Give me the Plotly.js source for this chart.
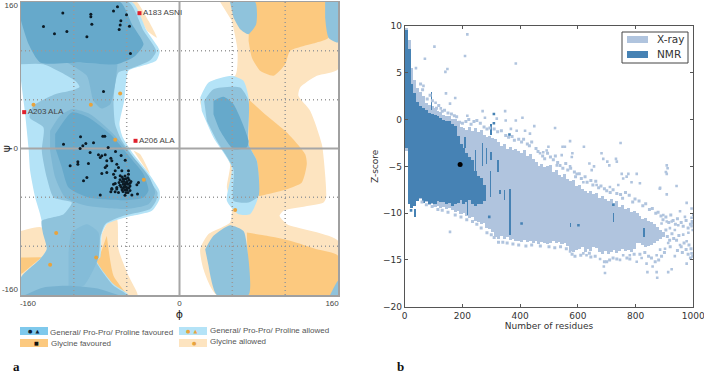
<!DOCTYPE html>
<html><head><meta charset="utf-8">
<script src="https://cdn.plot.ly/plotly-3.0.1.min.js"></script>
<style>html,body{margin:0;padding:0;background:#fff}#c{width:704px;height:375px}</style></head>
<body><div id="c"></div>
<script>
// ---------- Panel a: Ramachandran regions, [phi...] / [psi...] in degrees ----------
const glyAllowedRightPhi=[41,160,160,138.6,121.8,120,132,143.7,147,148,145.4,105,101,108.4,160,160,37.7,24.2,20.9,29.3,51,52.8,47.8,51,37.7,20.9,34.3,56.2,58.6,52.8];
const glyAllowedRightPsi=[160,160,86.6,79.4,66.6,57.5,41,4.7,-28,-53.5,-59,-68,-73.5,-82.6,-100.8,-160,-160,-131.8,-110,-93.5,-80.8,-60.8,-42.6,-17,8.4,52,73.9,79.4,106.6,139.4];
const glyFavUpperPhi=[71.3,150.4,150.4,138.6,111.7,106.7,94.9,81.4,73,69.7];
const glyFavUpperPsi=[160,160,121,115.8,106.6,92,79.4,84.8,99.4,117.6];
const glyFavMiddlePhi=[69.7,88.2,108.4,126.9,128.5,123.5,108.4,88.2,79.8,78,76.4,69.7];
const glyFavMiddlePsi=[53.9,35.7,17.5,-6.2,-17,-37,-44.4,-49.9,-51.7,-35,-20.7,4.7];
const glyFavLowerPhi=[68,88.2,111.7,138.6,160,160,69.7];
const glyFavLowerPsi=[-91.7,-95.4,-100.8,-110,-117,-160,-160];
const glyAllowedTopPhi=[-48,-43,-31.3,-22.9,-33];
const glyAllowedTopPsi=[160,160,139.4,121,128.5];
const glyAllowedMidPhi=[-46.4,-39.7,-29.6,-33];
const glyAllowedMidPsi=[-2.5,-6.2,-28,-24.4];
const glyAllowedLeftPhi=[-160,-139,-132.2,-140.7,-160];
const glyAllowedLeftPsi=[-90,-86.3,-110,-120.8,-141];
const glyAllowedLowPhi=[-78.4,-73.4,-63.3,-61.6,-51.5,-42.4,-53,-80];
const glyAllowedLowPsi=[-93.5,-82.6,-77,-110,-139,-160,-160,-119];
const glyFavLeftPhi=[-160,-135.6,-140.7,-157.5,-160];
const glyFavLeftPsi=[-119,-119,-120.8,-135.4,-137];
const glyFavWedgePhi=[-73.4,-66.6,-53,-67.3,-84,-80];
const glyFavWedgePsi=[-95.4,-139,-160,-149,-123.4,-115.4];
const genAllowedPhi=[-160,-48,-33,-20,-23.6,-51.5,-53.8,-55.9,-60.6,-57.2,-46.4,-33,-20.2,-20.2,-27.9,-54.8,-73.4,-78.4,-80,-83.5,-66.6,-51.5,-160,-160,-140.7,-134,-137.3,-140.7,-145.7,-150.8,-152.4,-155.8,-160];
const genAllowedPsi=[160,160,128.5,106.6,95.7,84.8,73.9,52,26.6,12,-6.2,-24.4,-46.2,-55.3,-68,-75.3,-82.6,-93.5,-119,-122.7,-148,-160,-160,-141,-120.8,-110,-88,-71.7,-53.5,-24.4,1,37.5,74];
const genMidPhi=[-160,-51.5,-36.3,-23.6,-29.6,-51.5,-61.6,-65,-66.6,-65,-58.2,-46.4,-33,-22.2,-23.6,-29.6,-56.5,-75,-80,-81.8,-84,-67.3,-53,-160,-160,-140.7,-134,-138,-139,-117,-108.7,-127,-134,-139,-137.3,-151.4,-147.4,-125.5,-110.4,-101,-105.3,-137.3,-160];
const genMidPsi=[160,160,128.5,106.6,96.5,86.6,83,70.3,52,26.6,8.4,-9.8,-31.7,-48,-57,-66,-73.5,-82.6,-97,-119,-123.4,-149,-160,-160,-141,-120.8,-110,-91.7,-79,-71.7,-59,-53.5,-31.7,-2.5,23,33.9,46.6,59.3,63,67.3,73.9,92,92];
const bumpPhi=[-113.7,-93.5,-86.8,-78.4,-70,-65,-62.6];
const bumpPsi=[94,79.4,52,43.7,48.4,70.3,92];
const haloPhi=[-130.6,-120.5,-108.7,-90.2,-68.3,-48,-31.3,-24.6,-31.3,-54.8,-93.5,-115.4,-125.5,-130.6];
const haloPsi=[19.3,35.7,43,37.5,17.5,-8,-29.8,-48,-60.8,-66,-62.6,-53.5,-31.7,-2.5];
const patchPhi=[-112,-108.7,-93.5,-81.8,-81.8,-96.9,-112];
const patchPsi=[-113.6,-91.7,-82.6,-91.7,-119,-150,-151.8];
const sliverPhi=[-155.8,-137.3,-110.4,-80,-61.6];
const sliverPsi=[-160,-151.8,-150,-153.6,-160];
const coreUpperPhi=[-160,-60,-48,-36.3,-44.8,-63.3,-100.3,-140.7,-152.4,-160];
const coreUpperPsi=[160,160,135.8,114,101,92,94,94,114,139.4];
const coreLowerPhi=[-125.5,-108.7,-91.9,-70,-49.8,-36.3,-31.3,-36.3,-53.2,-91.9,-112,-118.8,-125.5];
const coreLowerPsi=[15.7,39.3,33.9,15.7,-9.8,-28,-46,-53.5,-56.4,-53.5,-42.6,-20.7,1];
const rightTopPhi=[51,76.4,77.4,69.7,61.2,54.5];
const rightTopPsi=[160,160,135.8,124.9,130.3,143];
const rightCornerPhi=[147,160,160,150.4,147];
const rightCornerPsi=[160,160,115.8,121,143];
const rightLightPhi=[20.9,29.3,52.8,64.6,69.7,69.7,78,79.8,71.3,59.6,47.8,52.8,34.3,22.5];
const rightLightPsi=[55.7,72,79.4,73.9,55.7,4.7,-13.5,-51.7,-71.7,-71.7,-57,-20.7,12,41];
const rightMidPhi=[24.9,34.3,61.2,69.7,69.7,78,79.8,69.7,54.5,54.5,37.7,27.6];
const rightMidPsi=[52,64.8,66.6,52,4.7,-13.5,-51.7,-59,-57,-22.6,8.4,30];
const rightCorePhi=[34.3,44.4,54.5,69.7,68,54.5,41,34.3];
const rightCorePsi=[52,56.4,48.4,8.4,1,-0.7,19.3,37.5];
const rightLowPhi=[25.9,34.3,51,64.6,68,69.7,37.7,29.3];
const rightLowPsi=[-110,-95.4,-83.7,-90,-106,-160,-160,-128];
const rightBottomPhi=[152,160,160];
const rightBottomPsi=[-160,-144.5,-160];

const residuePhi=[-117.8,-89.5,-89.5,-66.6,-62.6,-53.5,-59.2,-59.9,-88.5,-137.3,-50.5,-60.9,-113.7,-126.2,-93.5,-49.5,-76.7,-77.4,-75.4,-99.9,-117.1,-94.6,-97.6,-100.3,-86.8,-72,-64.6,-90.2,-58.9,-81.8,-78.4,-75,-80,-69.3,-73.4,-54.8,-110.4,-102.6,-102.6,-91.9,-68.3,-73.4,-75,-63.3,-61.6,-64.9,-58.2,-66.6,-78.4,-73.4,-93.5,-96.9,-64.9,-59.9,-51.5,-51.5,-41.4,-43,-66.6,-63.3,-68.3,-64.9,-80,-48.1,-42.4,-69.3,-65,-61.6,-63.3,-68.3,
-58,-55,-52,-60,-57,-54,-51,-49,-61,-58,-56,-53,-50,-60,-57,-55,-52,-50,-59,-56,-54,-51,-58,-55,-53,-50,-57,-54,-52,-55,-53,-56,-55,-53,-57,-54];
const residuePsi=[148,146.7,143.8,150.3,154.7,146,139.4,135,135.8,133.2,133.6,130,127.8,125.2,122,103.7,62.2,13.5,13.5,12.7,4.7,5.5,2.9,0,6.2,1,-3.3,-4.4,-7.6,-6.9,-8,-6.9,-9.8,-10.6,-13.5,-12.7,-18.9,-14.6,-17.1,-16.4,-13.5,-18.9,-20.7,-17.1,-20.7,-24.4,-24.4,-28,-27.3,-26.2,-31.7,-35.3,-31.7,-29.8,-24.4,-28,-37,-39.7,-39,-42.6,-44.4,-38.2,-50.9,-50.9,-49.8,-47.3,-47.3,-48,-44.3,-43.6,
-31,-30,-32,-34,-33,-33,-34,-36,-37,-36,-36,-36,-38,-40,-39,-39,-39,-41,-42,-42,-42,-43,-45,-45,-45,-46,-47,-48,-48,-51,-36.5,-33.5,-41,-43,-43.5,-38];
const glycinePhi=[-147.4,-89.5,-59.9,-64.9,-36,-124.5,-130.6,-84.1,56.2];
const glycinePsi=[47.7,47.7,60,9.5,-34.2,-92.4,-127,-119,-67.3];
const outlierPhi=[-40.4,-156.8,-44.4];
const outlierPsi=[147.8,39.7,8.4];
const outlierNames=["A183 ASNI","A203 ALA","A206 ALA"];
const gridLines=[-106.7,-53.3,53.3,106.7];
const ramaTickX=[-153,0,154];
const ramaTickY=[-154,0,156];
const ramaTickTextX=["-160","0","160"];
const ramaTickTextY=["-160","0","160"];

// ---------- Panel b: dense bands read per residue bin, plus sparse points ----------
const xrayRes=[5,15,25,35,45,55,65,75,85,95,105,115,125,135,145,155,165,175,185,195,205,215,225,235,245,255,265,275,285,295,305,315,325,335,345,355,365,375,385,395,405,415,425,435,445,455,465,475,485,495,505,515,525,535,545,555,565,575,585,595,605,615,625,635,645,655,665,675,685,695,705,715,725,735,745,755,765,775,785,795,805,815,825,835,845,855,865,875,885,895];
const xrayHigh=[9.8,8.5,5.5,4.2,3.4,3.0,2.5,1.8,1.6,1.4,1.2,0.9,0.8,0.5,0.4,0.4,0.1,0.1,-0.2,-0.8,-0.9,-1.1,-0.8,-1.2,-0.9,-1.3,-1.1,-1.6,-1.9,-1.8,-2.0,-2.1,-2.4,-2.8,-2.6,-3.1,-2.9,-3.2,-3.1,-3.4,-3.6,-3.3,-3.9,-3.7,-4.2,-4.5,-5.0,-4.7,-5.1,-5.0,-4.9,-5.6,-5.4,-5.9,-6.1,-5.8,-6.4,-6.6,-6.5,-7.1,-7.0,-7.4,-7.6,-7.8,-7.6,-8.0,-7.9,-8.4,-8.2,-8.5,-8.7,-8.5,-8.9,-8.7,-9.3,-9.1,-9.6,-9.4,-9.9,-9.8,-10.0,-10.3,-10.6,-10.5,-10.8,-10.9,-11.2,-11.5,-11.8,-12.0];
const xrayLow=[-3.4,-9.0,-9.4,-9.0,-8.7,-8.5,-8.9,-8.8,-9.1,-9.0,-9.3,-9.2,-9.5,-9.3,-9.6,-9.4,-9.7,-9.9,-9.8,-10.1,-10.0,-10.3,-10.5,-10.4,-10.8,-10.9,-11.2,-11.1,-11.6,-11.7,-12.0,-12.6,-12.8,-12.4,-12.8,-12.6,-12.9,-12.8,-13.0,-13.0,-13.1,-12.9,-13.1,-13.0,-13.2,-13.0,-13.3,-13.1,-13.2,-13.3,-13.2,-13.0,-13.2,-13.1,-13.3,-13.2,-13.5,-14.0,-14.1,-13.9,-13.8,-13.6,-14.1,-13.8,-14.0,-13.6,-13.7,-14.2,-14.4,-14.0,-14.4,-14.2,-13.9,-14.3,-14.0,-13.8,-14.0,-13.9,-14.2,-13.8,-13.2,-13.2,-13.4,-13.6,-13.5,-13.4,-13.2,-13.0,-12.8,-12.5];
const xraySparseRes=[217,103,209,70,385,148,141,39,143,175,65,107,157,125,217,270,348,278,319,350,385,408,449,521,368,388,417,434,573,547,555,621,748,498,492,480,469,682,581,579,544,732,735,688,702,709,640,656,648,908,911,905,908,752,775,804,769,786,815,942,884,665,711,740,757,573,527,596,619,
885,908,977,994,896,925,954,971,994,994,936,965,977,994,977,936,925,913,875,873,859,841,838,821,804,746,694,690,677,157,896,913,954,983,1000,998,998,902,885,873,919,948,890,908,619,573,630,757,780];
const xraySparseZ=[9.1,7.8,6.8,6.5,6,5.4,5.1,5.5,2.8,2.3,3.6,1.8,1.7,1.2,0.4,0.9,0.9,0.2,0.1,-0.1,-0.1,0.2,-0.7,-0.9,-1,-1.2,-1.2,-1.5,-2.3,-2.9,-2.9,-2.9,-2.5,-2.9,-3.3,-3.5,-3.6,-3.6,-3.6,-4,-3.8,-4.2,-4.5,-4.2,-4.5,-4.9,-4.7,-5,-5.4,-4.9,-5.2,-5.6,-5.8,-5.8,-5.8,-5.8,-6.1,-6.7,-6.8,-7.1,-7.4,-7,-7.2,-7,-6.3,-5,-4.9,-5.8,-6.7,
-7.3,-8,-8.9,-9.5,-10.2,-10.9,-9.8,-10.4,-10.5,-11.4,-11.8,-12.3,-13,-14.3,-15.4,-14.6,-16,-16.3,-16.9,-16.3,-15.7,-16.3,-15.4,-14.8,-15.2,-15,-16.4,-15.7,-14.9,-12,-12.3,-13.2,-13.4,-12.1,-10.2,-11.1,-11.8,-13.8,-13.9,-14.5,-11.6,-11.3,-11.1,-10.9,-14.3,-14.1,-14.5,-14.5,-14.5];
const xrayEdgeRes=[230,240,250,262,275,285,295,310,322,335,350,360,372,380,395,405,412,425,432,440,455,462,478,485,495,505,515,522,530,538,548,558,565,575,588,592,605,612,625,632,645,652,662,672,680,692,700,712,722,735,748,755,765,778,790,798,812,825,835,848,858,870,878,888,895,905,915,922,930,938,945,958,965,975,982,990,996,
905,910,918,926,932,942,950,958,968,975,985,992,998,990,982,962,945,920,900,890,880,868,855,845,832,815,795,780,770,735,722,710,700,692,660,645,640,610,590,580,560,540,520,500,470,440,420,395,375,355,340,325,310,300,285,265,250,235,215,195,175,150,130,115,95,75,60,
55,62,78,88,96,110,118,130,138,150,162,172,180,190,200,212,222];
const xrayEdgeZ=[-0.5,-0.2,-0.1,-0.4,-0.8,-1,-0.9,-1,-1.3,-1.2,-1.7,-1.9,-1.8,-2.2,-2.1,-2.4,-2.1,-2.6,-2.8,-2.4,-3.1,-3.4,-3.9,-4.2,-3.6,-4,-4.3,-3.9,-4.6,-4.9,-5.2,-4.7,-5.4,-5.2,-5.6,-6.1,-5.8,-6.3,-6.1,-6.7,-6.5,-7,-6.6,-7.3,-7.1,-7.4,-7.6,-7.8,-7.5,-7.9,-8,-8.4,-7.8,-8.1,-8.8,-8.5,-8.7,-9.2,-9,-9.6,-9.5,-10,-9.9,-10.3,-10.7,-10.4,-11,-10.2,-10.8,-11.2,-10.6,-11,-11.4,-10.8,-11.6,-11.2,-10.9,
-11.8,-12.5,-12.9,-12.2,-12.7,-12.9,-12.4,-13.6,-13.2,-13.9,-13.4,-13.8,-14.6,-14.8,-14.4,-14.2,-14,-13.6,-14.2,-14.6,-15,-15.2,-14.8,-14.6,-14.2,-14.4,-14.4,-14.9,-14.8,-14.9,-14.8,-15,-15.2,-15.2,-14.6,-14.7,-14.3,-14.5,-14.6,-14.4,-13.8,-13.6,-13.7,-13.6,-13.5,-13.4,-13.5,-13.4,-13.3,-13.2,-13.1,-13.1,-12.6,-12.3,-12.1,-11.6,-11.2,-10.9,-10.7,-10.4,-10.2,-9.9,-9.7,-9.6,-9.3,-9.1,-8.8,
3.8,3.2,2.2,2.6,2,1.2,1.5,0.9,1,0.7,0.6,0.4,0.3,-0.3,-0.4,-0.2,0];
const nmrRes=[5,15,25,35,45,55,65,75,85,95,105,115,125,135,145,155,165,175,185,195,205,215,225,235,245,255,265,275];
const nmrHigh=[9.6,7.5,3.8,2.8,1.9,1.5,1.2,1.0,0.7,0.6,0.5,0.4,0.2,0,-0.1,-0.2,-0.5,-0.7,-1.8,-2.6,-3,-3.6,-4,-4.3,-5.5,-6,-6.2,-7];
const nmrLow=[-3,-9,-9.5,-9.2,-8.7,-8.4,-8.9,-8.7,-9,-8.9,-9,-8.7,-8.8,-8.8,-9,-8.9,-9.2,-9,-8.9,-8.6,-9,-8.8,-8.6,-9,-9.2,-9,-9,-8.7];
const nmrColRes=[92,246,270,284,299,299,324,209,365,345,330,298,218,36,723,829,574];
const nmrColHigh=[3,-3.3,-2.5,-3,-0.5,-3.5,-4.3,-1.9,-7.4,-7.5,-7.5,-5.5,-8.7,-9.6,-10,-11.6,-11.1];
const nmrColLow=[1,-5.5,-5,-4.7,-1.7,-4.3,-5.6,-3,-12.3,-8.6,-8,-8.3,-10.2,-10.4,-11,-12.5,-11.5];
const nmrSparseRes=[293,405,602,723,309,309,363,22];
const nmrSparseZ=[-10.4,-11.1,-11.3,-9.1,0.6,-0.4,-1.6,-9.7];
const targetRes=[192];
const targetZ=[-4.8];
const zTicks=[-20,-15,-10,-5,0,5,10];
const resTicks=[0,200,400,600,800,1000];
const seriesNames=["X-ray","NMR"];

// ---------- Colours ----------
const cLightBlue="#b4e3f7",cMid="#8fc3dc",cHalo="#7db7d4",cCore="#66a9cb",cOrange="#fcc97f",cLightOrange="#fde4c0";
const cXray="#b0c4de",cNmr="#4682b4";

function area(x,y,c){return {type:"scatter",x:x,y:y,mode:"lines",fill:"toself",fillcolor:c,line:{width:0,color:c,shape:"spline",smoothing:0.6},hoverinfo:"skip",showlegend:false,xaxis:"x",yaxis:"y"};}
function band(x,hi,lo,c,w,name){return {type:"bar",x:x,base:lo,y:hi.map((h,i)=>h-lo[i]),width:w,marker:{color:c,line:{width:0}},name:name||"",showlegend:false,hoverinfo:"skip",xaxis:"x2",yaxis:"y2"};}
function dots(x,y,c,s){return {type:"scatter",mode:"markers",x:x,y:y,marker:{color:c,size:s,symbol:"square",line:{width:0}},showlegend:false,hoverinfo:"skip",xaxis:"x2",yaxis:"y2"};}

const gx=[],gy=[],hx=[],hy=[];
gridLines.forEach(v=>{gx.push(v,v,null);gy.push(-160,160,null);hx.push(-160,160,null);hy.push(v,v,null);});

const traces=[
 area(glyAllowedRightPhi,glyAllowedRightPsi,cLightOrange),
 area(glyAllowedTopPhi,glyAllowedTopPsi,cLightOrange),
 area(glyAllowedMidPhi,glyAllowedMidPsi,cLightOrange),
 area(glyAllowedLeftPhi,glyAllowedLeftPsi,cLightOrange),
 area(glyAllowedLowPhi,glyAllowedLowPsi,cLightOrange),
 area(glyFavUpperPhi,glyFavUpperPsi,cOrange),
 area(glyFavMiddlePhi,glyFavMiddlePsi,cOrange),
 area(glyFavLowerPhi,glyFavLowerPsi,cOrange),
 area(glyFavLeftPhi,glyFavLeftPsi,cOrange),
 area(glyFavWedgePhi,glyFavWedgePsi,cOrange),
 area(genAllowedPhi,genAllowedPsi,cLightBlue),
 area(genMidPhi,genMidPsi,cMid),
 area(bumpPhi,bumpPsi,cHalo),
 area(haloPhi,haloPsi,cHalo),
 area(patchPhi,patchPsi,"#84bcd8"),
 area(sliverPhi,sliverPsi,"#78b2d0"),
 area(coreUpperPhi,coreUpperPsi,cCore),
 area(coreLowerPhi,coreLowerPsi,cCore),
 area(rightTopPhi,rightTopPsi,cMid),
 area(rightCornerPhi,rightCornerPsi,cMid),
 area(rightLightPhi,rightLightPsi,cLightBlue),
 area(rightMidPhi,rightMidPsi,cMid),
 area(rightCorePhi,rightCorePsi,cCore),
 area(rightLowPhi,rightLowPsi,cMid),
 area(rightBottomPhi,rightBottomPsi,cMid),
 {type:"scatter",mode:"lines",x:gx.concat(hx),y:gy.concat(hy),line:{color:"#999",width:1.5,dash:"1px,3px"},hoverinfo:"skip",showlegend:false,xaxis:"x",yaxis:"y"},
 {type:"scatter",mode:"lines",x:[0,0,null,-160,160],y:[-160,160,null,0,0],line:{color:"#a6a6a6",width:2},hoverinfo:"skip",showlegend:false,xaxis:"x",yaxis:"y"},
 {type:"scatter",mode:"markers",x:glycinePhi,y:glycinePsi,marker:{color:"#e8a33d",size:4,line:{width:0}},hoverinfo:"skip",showlegend:false,xaxis:"x",yaxis:"y"},
 {type:"scatter",mode:"markers",x:residuePhi,y:residuePsi,marker:{color:"#0b1a24",size:3,line:{width:0}},hoverinfo:"skip",showlegend:false,xaxis:"x",yaxis:"y"},
 {type:"scatter",mode:"markers+text",x:outlierPhi,y:outlierPsi,text:outlierNames,textposition:"middle right",textfont:{family:"Liberation Sans",size:8,color:"#444"},marker:{color:"#e0202c",size:4,symbol:"square",line:{width:0}},hoverinfo:"skip",showlegend:false,cliponaxis:false,xaxis:"x",yaxis:"y"},
 band(xrayRes,xrayHigh,xrayLow,cXray,10.6,seriesNames[0]),
 dots(xraySparseRes,xraySparseZ,cXray,2.6),
 dots(xrayEdgeRes,xrayEdgeZ,cXray,3),
 band(nmrRes,nmrHigh,nmrLow,cNmr,10.6,seriesNames[1]),
 band(nmrColRes,nmrColHigh,nmrColLow,cNmr,5),
 dots(nmrSparseRes,nmrSparseZ,cNmr,2.6),
 {type:"scatter",mode:"markers",x:targetRes,y:targetZ,marker:{color:"#000",size:5,line:{width:0}},showlegend:false,hoverinfo:"skip",xaxis:"x2",yaxis:"y2"}
];

const W=704,H=375;
const swatch=(x0,x1,y0,y1,c,line)=>({type:"rect",xref:"paper",yref:"paper",x0:x0/W,x1:x1/W,y0:1-y1/H,y1:1-y0/H,fillcolor:c,line:line||{width:0}});
const note=(t,x,y,f)=>({text:t,xref:"paper",yref:"paper",x:x/W,y:1-y/H,xanchor:"left",yanchor:"middle",showarrow:false,font:f||{family:"Liberation Sans",size:8,color:"#555"}});
const keyMark=c=>({family:"DejaVu Sans",size:5,color:c});
const panelFont={family:"Liberation Serif",size:13,color:"#111"};
const legFont={family:"DejaVu Sans",size:10.5,color:"#333"};

const layout={
 width:W,height:H,margin:{l:0,r:0,t:0,b:0},paper_bgcolor:"#fff",plot_bgcolor:"#fff",showlegend:false,barmode:"overlay",bargap:0,
 xaxis:{domain:[21/W,338/W],range:[-160,160],showgrid:false,zeroline:false,showline:true,mirror:true,linecolor:"#a0a0a0",linewidth:1.5,ticks:"",tickvals:ramaTickX,ticktext:ramaTickTextX,tickfont:{family:"Liberation Sans",size:8,color:"#444"},title:{text:"ɸ",standoff:1,font:{family:"DejaVu Sans",size:11,color:"#222"}}},
 yaxis:{domain:[1-295/H,1-2/H],range:[-160,160],showgrid:false,zeroline:false,showline:true,mirror:true,linecolor:"#a0a0a0",linewidth:1.5,ticks:"",tickvals:ramaTickY,ticktext:ramaTickTextY,tickfont:{family:"Liberation Sans",size:8,color:"#444"},title:{text:"ψ",standoff:0,font:{family:"DejaVu Sans",size:11,color:"#222"}}},
 xaxis2:{domain:[404.7/W,693.3/W],range:[0,1000],anchor:"y2",showgrid:false,zeroline:false,showline:true,mirror:"allticks",linecolor:"#555",linewidth:1,ticks:"inside",ticklen:3,tickcolor:"#555",tickvals:resTicks,ticklabeloverflow:"allow",tickfont:{family:"DejaVu Sans",size:9,color:"#333"},title:{text:"Number of residues",standoff:3,font:{family:"DejaVu Sans",size:9,color:"#333"}}},
 yaxis2:{domain:[1-306.7/H,1-26/H],range:[-20,10],anchor:"x2",showgrid:false,zeroline:false,showline:true,mirror:"allticks",linecolor:"#555",linewidth:1,ticks:"inside",ticklen:3,tickcolor:"#555",tickvals:zTicks,tickfont:{family:"DejaVu Sans",size:9,color:"#333"},title:{text:"Z-score",standoff:2,font:{family:"DejaVu Sans",size:9,color:"#333"}}},
 shapes:[swatch(20,48,327,335,"#7fc9ec"),swatch(20,48,339,347,cOrange),swatch(179,207,327,335,cLightBlue),swatch(179,207,339,347,cLightOrange),
  swatch(622,688,32,63,"#fff",{color:"#444",width:1}),swatch(627,648,36,43,cXray),swatch(627,648,51,58,cNmr)],
 annotations:[
  note("General/ Pro-Pro/ Proline favoured",48,332),
  note("Glycine favoured",49,343),
  note("General/ Pro-Pro/ Proline allowed",208,330),
  note("Glycine allowed",208,341),
  note("●&nbsp;&nbsp;▲",26,331,keyMark("#123")),
  note("■",32,343,keyMark("#111")),
  note("●&nbsp;&nbsp;▲",184,331,keyMark("#e8a33d")),
  note("●",190,343,keyMark("#e8a33d")),
  note("<b>a</b>",11,366,panelFont),
  note("<b>b</b>",395,366,panelFont),
  note(seriesNames[0],655,39.5,legFont),
  note(seriesNames[1],655,54,legFont)
 ]
};
Plotly.newPlot("c",traces,layout,{displayModeBar:false,staticPlot:true});
</script></body></html>
